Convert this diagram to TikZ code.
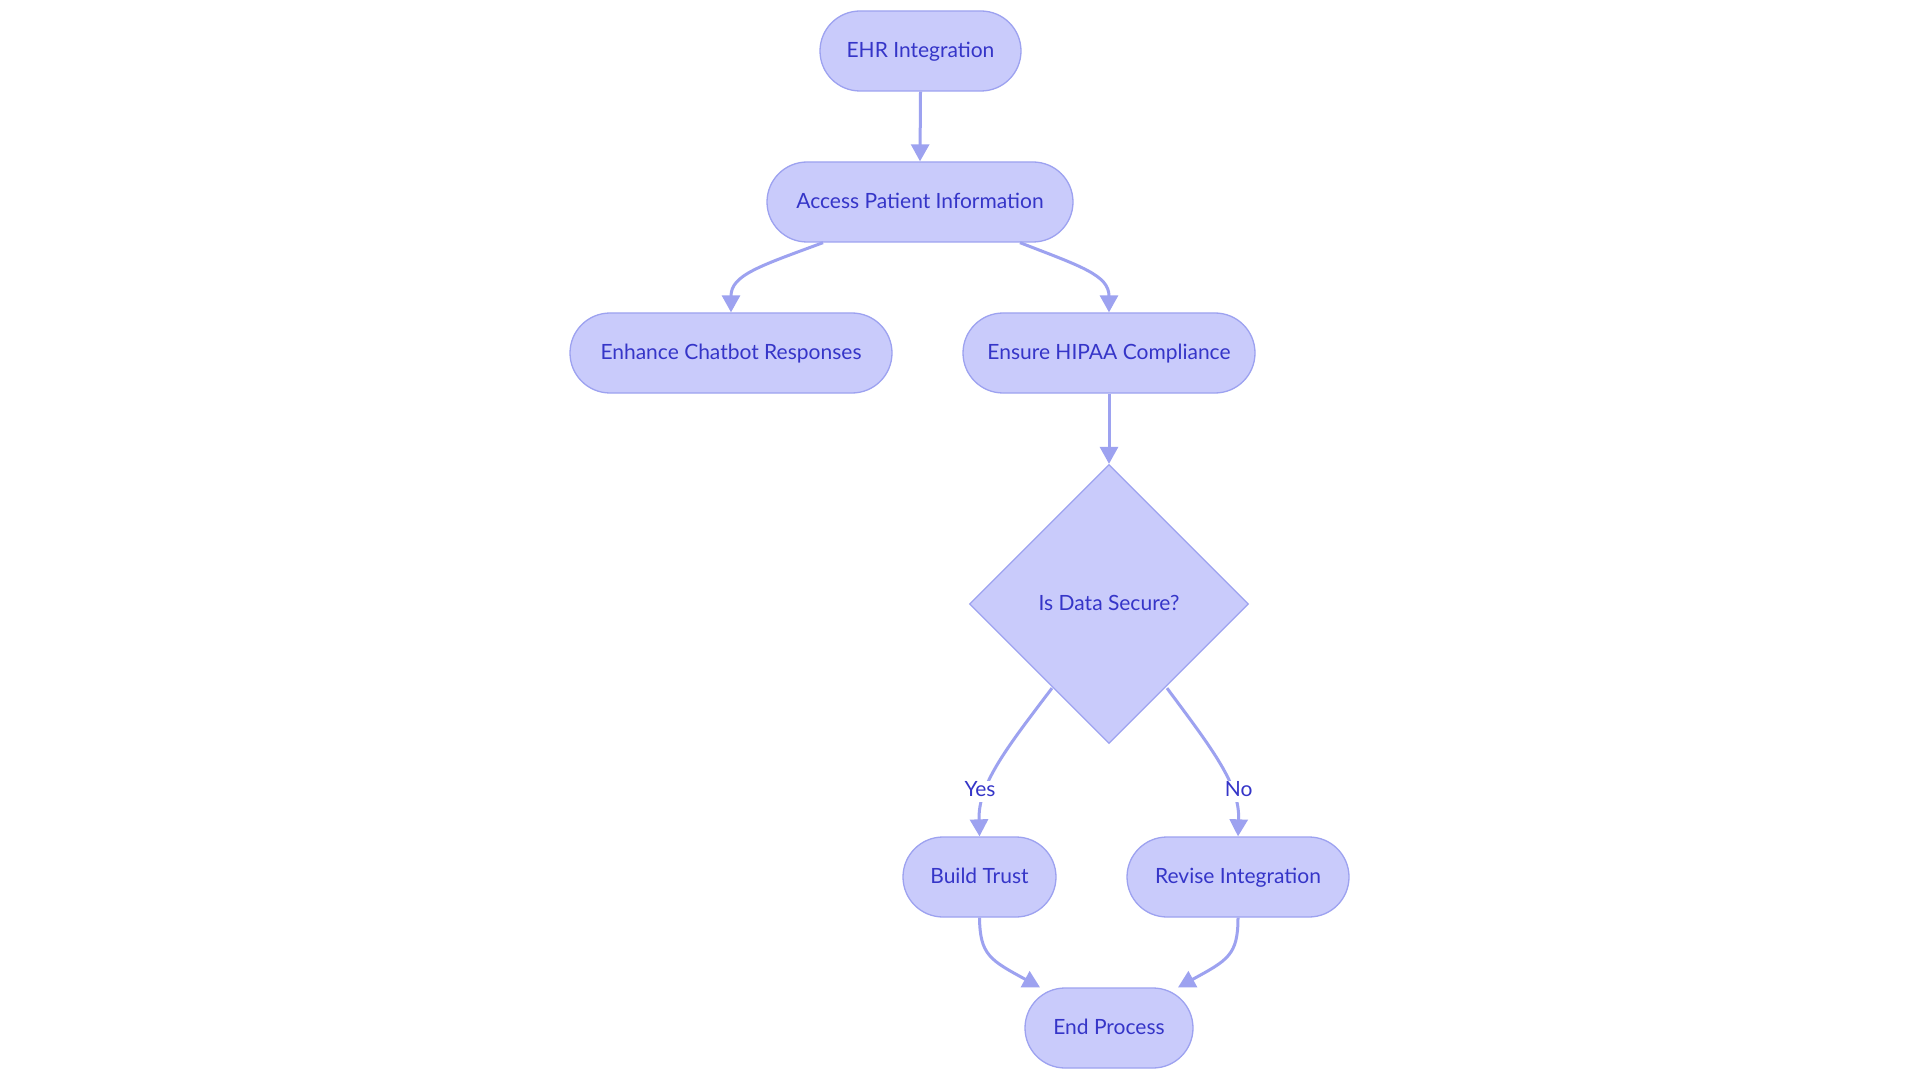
\documentclass[tikz,border=0pt]{standalone}
\usepackage{fontspec}
\setmainfont{Lato}
\usetikzlibrary{arrows.meta,shapes.geometric}
\definecolor{nfill}{HTML}{C9CBFB}
\definecolor{nborder}{HTML}{9DA2F0}
\definecolor{nline}{HTML}{9DA2F0}
\definecolor{ntext}{HTML}{3535C8}
\begin{document}
\begin{tikzpicture}[x=1pt,y=-1pt,
  stadium/.style={draw=nborder, line width=1.3pt, fill=nfill, rounded corners=40pt,
    minimum height=80pt, text=ntext, font=\fontsize{21}{25}\selectfont, inner sep=0pt,
    text height=15pt, text depth=1.6pt},
  decision/.style={diamond, draw=nborder, line width=1.3pt, fill=nfill, aspect=1,
    minimum width=279pt, minimum height=279pt, inner sep=0pt, text=ntext,
    font=\fontsize{21}{25}\selectfont, text height=15pt, text depth=1.6pt},
  conn/.style={draw=nline, line width=3pt, -{Triangle[length=17pt,width=18pt]}},
  lbl/.style={fill=white, text=ntext, font=\fontsize{21}{25}\selectfont, inner sep=1pt,
    text height=15pt, text depth=4pt}
]
\useasboundingbox (0,0) rectangle (1920,1083);
\fill[white] (0,0) rectangle (1920,1083);

\node[stadium, minimum width=201pt] (ehr) at (920.5,51) {EHR Integration};
\node[stadium, minimum width=306pt] (access) at (920,202) {Access Patient Information};
\node[stadium, minimum width=322pt] (enhance) at (731,353) {Enhance Chatbot Responses};
\node[stadium, minimum width=292pt] (ensure) at (1109,353) {Ensure HIPAA Compliance};
\node[decision] (dec) at (1109,604) {Is Data Secure?};
\node[stadium, minimum width=153pt] (build) at (979.5,877) {Build Trust};
\node[stadium, minimum width=222pt] (revise) at (1238,877) {Revise Integration};
\node[stadium, minimum width=168pt] (endp) at (1109,1028) {End Process};

\draw[conn] (ehr.south) -- (access.north);
\draw[conn] ([xshift=-97pt]access.south) .. controls (760,266) and (731,275) .. (enhance.north);
\draw[conn] ([xshift=100pt]access.south) .. controls (1080,266) and (1109,275) .. (ensure.north);
\draw[conn] (ensure.south) -- (dec.north);
\draw[conn] ([xshift=-57pt,yshift=56pt]dec.south) .. controls (1005,750) and (978,785) .. (build.north);
\draw[conn] ([xshift=58pt,yshift=56pt]dec.south) .. controls (1213,750) and (1240,785) .. (revise.north);
\draw[conn] (build.south) .. controls (980,955) and (990,960) .. ([xshift=-69pt]endp.north);
\draw[conn] (revise.south) .. controls (1238,955) and (1228,960) .. ([xshift=69pt]endp.north);

\node[lbl] (yes) at (980,791) {Yes};
\node[lbl] (no) at (1238.7,791) {No};
\end{tikzpicture}
\end{document}
